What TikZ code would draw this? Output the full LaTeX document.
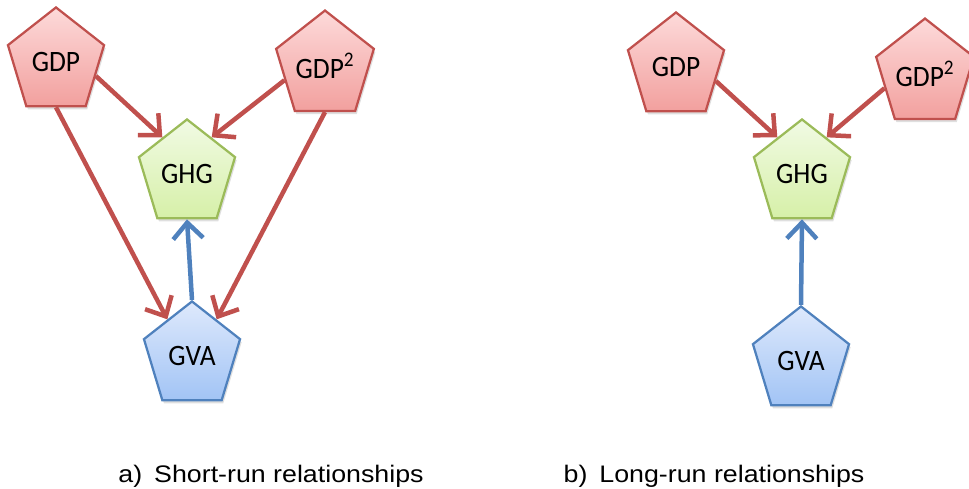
\documentclass[tikz,border=0pt]{standalone}
\usepackage{fontspec}
\setmainfont{Carlito}
\newfontfamily\capfont[FakeStretch=1.12]{Liberation Sans}
\usetikzlibrary{shapes.geometric, arrows.meta, shadows}

\definecolor{redline}{RGB}{192,80,77}
\definecolor{redtop}{RGB}{253,218,218}
\definecolor{redbot}{RGB}{242,160,158}
\definecolor{greenline}{RGB}{155,187,89}
\definecolor{greentop}{RGB}{241,250,228}
\definecolor{greenbot}{RGB}{214,240,168}
\definecolor{blueline}{RGB}{79,129,189}
\definecolor{bluetop}{RGB}{222,233,252}
\definecolor{bluebot}{RGB}{162,196,245}

\tikzset{
  penta/.style={regular polygon, regular polygon sides=5, minimum size=2.525cm,
    inner sep=0pt, line width=1.6pt, yscale=1.08, transform shape,
    font=\fontsize{19.5}{22}\selectfont,
    drop shadow={opacity=0.25, shadow xshift=0.4mm, shadow yshift=-0.8mm}},
  gdpbox/.style={penta, draw=redline, top color=redtop, bottom color=redbot},
  ghgbox/.style={penta, draw=greenline, top color=greentop, bottom color=greenbot},
  gvabox/.style={penta, draw=blueline, top color=bluetop, bottom color=bluebot},
  link/.style={line width=3.2pt, -{Straight Barb[length=4mm, width=7.5mm]}},
  caption/.style={font=\capfont\fontsize{17}{20}\selectfont, anchor=base, inner sep=0pt}
}

\begin{document}
\begin{tikzpicture}[x=0.025cm, y=-0.025cm]
\useasboundingbox (0,0) rectangle (969,488);

% a) short run
\node[gdpbox] (GDPa) at (56,62) {GDP};
\node[gdpbox] (GDPsqa) at (325,66) {GDP\textsuperscript{2}};
\node[ghgbox] (GHGa) at (187,174) {GHG};
\node[gvabox] (GVAa) at (192,356) {GVA};

\draw[link, redline] (GDPa.side 4) -- (GHGa.side 1);
\draw[link, redline] (GDPsqa.side 2) -- (GHGa.side 5);
\draw[link, redline] (GDPa.side 3) -- (GVAa.side 1);
\draw[link, redline] (GDPsqa.side 3) -- (GVAa.side 5);
\draw[link, blueline] (GVAa.corner 1) -- (GHGa.side 3);

% b) long run
\node[gdpbox] (GDPb) at (676,67) {GDP};
\node[gdpbox] (GDPsqb) at (925,74) {GDP\textsuperscript{2}};
\node[ghgbox] (GHGb) at (802,174) {GHG};
\node[gvabox] (GVAb) at (801,361) {GVA};

\draw[link, redline] (GDPb.side 4) -- (GHGb.side 1);
\draw[link, redline] (GDPsqb.side 2) -- (GHGb.side 5);
\draw[link, blueline] (GVAb.corner 1) -- (GHGb.side 3);

\node[caption] (capa) at (271,482) {a)\hspace{0.3cm}Short-run relationships};
\node[caption] (capb) at (714,482) {b)\hspace{0.3cm}Long-run relationships};
\end{tikzpicture}
\end{document}
